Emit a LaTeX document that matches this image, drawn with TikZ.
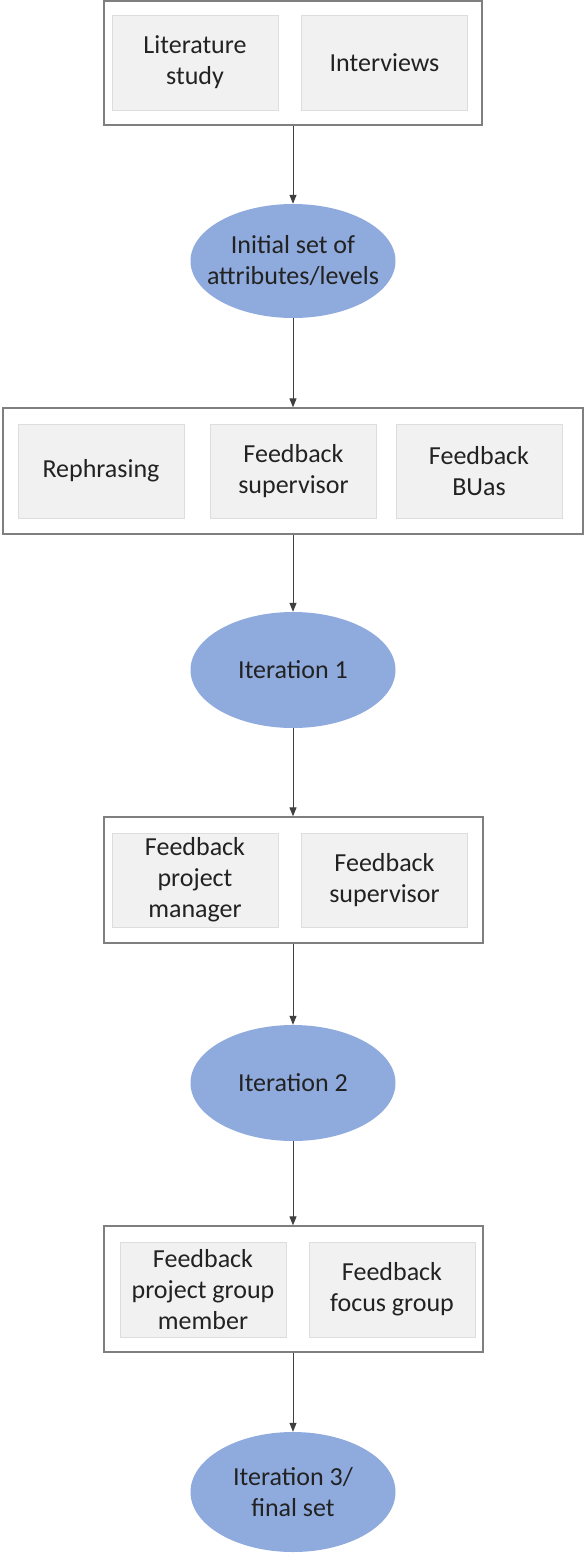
\documentclass[tikz,border=0pt]{standalone}
\usepackage{fontspec}
\setmainfont{Carlito}
\usetikzlibrary{shapes.geometric,arrows.meta}
\definecolor{outerc}{HTML}{7F7F7F}
\definecolor{innerfill}{HTML}{F1F1F1}
\definecolor{innerdraw}{HTML}{DDDDDD}
\definecolor{ellfill}{HTML}{8FAADC}
\definecolor{arrowc}{HTML}{3F3F3F}
\definecolor{txt}{HTML}{222222}
\tikzset{
  outerbox/.style={draw=outerc, line width=1.3pt, fill=white, rectangle, inner sep=0pt},
  innerbox/.style={draw=innerdraw, line width=0.8pt, fill=innerfill, rectangle, inner sep=0pt,
    minimum width=166pt, minimum height=95pt, align=center, text=txt,
    font=\fontsize{26pt}{31pt}\selectfont},
  ellnode/.style={ellipse, fill=ellfill, draw=none, inner sep=0pt, minimum width=205pt},
  elltext/.style={inner sep=0pt, align=center, text=txt, font=\fontsize{26pt}{31pt}\selectfont},
  conn/.style={draw=arrowc, line width=1pt, -{Triangle[length=9pt,width=7pt]}}
}
\begin{document}
\begin{tikzpicture}[x=1pt,y=-1pt]
\useasboundingbox (0,0) rectangle (585,1555);
% group 1
\node[outerbox, minimum width=378pt, minimum height=124pt] (b1) at (293,63) {};
\node[innerbox] (lit) at (195,62.5) {Literature\\study};
\node[innerbox] (int) at (384.5,62.5) {Interviews};
\node[ellnode, minimum height=114pt] (e1) at (293,261) {};
\node[elltext] (t1) at (e1.center) {Initial set of\\attributes/levels};
% group 2
\node[outerbox, minimum width=580pt, minimum height=126pt] (b2) at (293,471) {};
\node[innerbox, minimum height=94pt] (reph) at (101,471) {Rephrasing};
\node[innerbox, minimum height=94pt] (fsup) at (293.5,471) {Feedback\\supervisor};
\node[innerbox, minimum height=94pt] (fbua) at (479,471) {Feedback\\BUas};
\node[ellnode, minimum height=116pt] (e2) at (293,670) {};
\node[elltext] (t2) at (e2.center) {Iteration 1};
% group 3
\node[outerbox, minimum width=379pt, minimum height=126pt] (b3) at (293.5,880) {};
\node[innerbox, minimum height=94pt] (fpm) at (195,880) {Feedback\\project\\manager};
\node[innerbox, minimum height=94pt] (fsup2) at (384.5,880) {Feedback\\supervisor};
\node[ellnode, minimum height=116pt] (e3) at (293,1083) {};
\node[elltext] (t3) at (e3.center) {Iteration 2};
% group 4
\node[outerbox, minimum width=379pt, minimum height=126pt] (b4) at (293.5,1289) {};
\node[innerbox, minimum height=95pt] (fgm) at (203,1289.5) {Feedback\\project group\\member};
\node[innerbox, minimum height=95pt] (ffg) at (392,1289.5) {Feedback\\focus group};
\node[ellnode, minimum height=120pt] (e4) at (293,1492) {};
\node[elltext] (t4) at (e4.center) {Iteration 3/\\final set};
% connectors
\draw[conn] (b1.south -| e1.north) -- (e1.north);
\draw[conn] (e1.south) -- (e1.south |- b2.north);
\draw[conn] (b2.south -| e2.north) -- (e2.north);
\draw[conn] (e2.south) -- (e2.south |- b3.north);
\draw[conn] (b3.south -| e3.north) -- (e3.north);
\draw[conn] (e3.south) -- (e3.south |- b4.north);
\draw[conn] (b4.south -| e4.north) -- (e4.north);
\end{tikzpicture}
\end{document}
